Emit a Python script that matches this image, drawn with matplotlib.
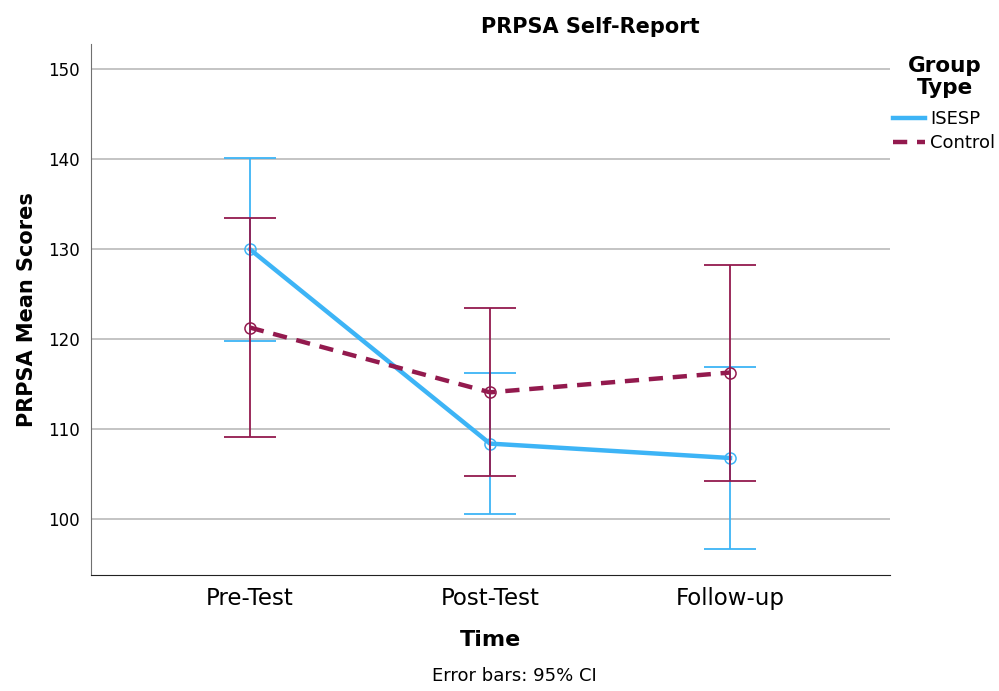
import numpy as np
import matplotlib
import matplotlib.pyplot as plt

matplotlib.rc('font', family='DejaVu Sans', size=11)

times = ['Pre-Test', 'Post-Test', 'Follow-up']

isesp_mean = [130.0, 108.4, 106.8]
isesp_low = [119.8, 100.6, 96.7]
isesp_high = [140.2, 116.2, 116.9]

control_mean = [121.3, 114.1, 116.3]
control_low = [109.1, 104.8, 104.2]
control_high = [133.5, 123.5, 128.3]

BLUE = '#3db4f6'
MAROON = '#931a4e'

fig = plt.figure(figsize=(9.99, 6.91), dpi=100)
ax = fig.add_axes([0.091, 0.168, 0.800, 0.768])

x = np.arange(len(times))


def draw_group(mean, low, high, color, ls, label, z):
    mean = np.array(mean)
    err = [mean - np.array(low), np.array(high) - mean]
    ax.errorbar(x, mean, yerr=err, fmt='none', ecolor=color, elinewidth=1.3,
                capsize=19, capthick=1.3, zorder=z)
    line, = ax.plot(x, mean, color=color, lw=3.2, ls=ls, label=label,
                    zorder=z + 1)
    if ls == '--':
        line.set_dashes((3.2, 2.2))
    ax.plot(x, mean, 'o', ms=8, mfc='none', mec=color, mew=1.1, zorder=z + 2)
    return line


h1 = draw_group(isesp_mean, isesp_low, isesp_high, BLUE, '-', 'ISESP', 3)
h2 = draw_group(control_mean, control_low, control_high, MAROON, '--', 'Control', 6)

ax.set_xlim(-0.6625, 2.667)
ax.set_ylim(93.8, 152.8)
ax.set_yticks([100, 110, 120, 130, 140, 150])
ax.set_xticks(x)
ax.set_xticklabels(times, fontsize=16.5)
ax.tick_params(axis='y', length=0, labelsize=12, pad=8)
ax.tick_params(axis='x', length=0, pad=9)
ax.yaxis.grid(True, color='#b4b4b4', lw=1.1)
ax.set_axisbelow(True)
for s in ['top', 'right']:
    ax.spines[s].set_visible(False)
ax.spines['left'].set_color('#707070')
ax.spines['bottom'].set_color('#222222')

ax.set_ylabel('PRPSA Mean Scores', fontsize=15, fontweight='bold', labelpad=8)
fig.text(0.4905, 0.074, 'Time', ha='center', va='center', fontsize=16,
         fontweight='bold')
fig.text(0.515, 0.009, 'Error bars: 95% CI', ha='center', va='bottom',
         fontsize=13)
fig.text(0.5905, 0.961, 'PRPSA Self-Report', ha='center', va='center',
         fontsize=15, fontweight='bold')

fig.text(0.9455, 0.905, 'Group', ha='center', va='center', fontsize=15.5,
         fontweight='bold')
fig.text(0.9455, 0.872, 'Type', ha='center', va='center', fontsize=15.5,
         fontweight='bold')
leg = fig.legend(handles=[h1, h2], loc='upper left',
                 bbox_to_anchor=(0.894, 0.841), frameon=False, fontsize=13,
                 handlelength=1.75, handletextpad=0.3, labelspacing=0.35,
                 borderaxespad=0, borderpad=0)

fig.savefig('out.png', dpi=100)
